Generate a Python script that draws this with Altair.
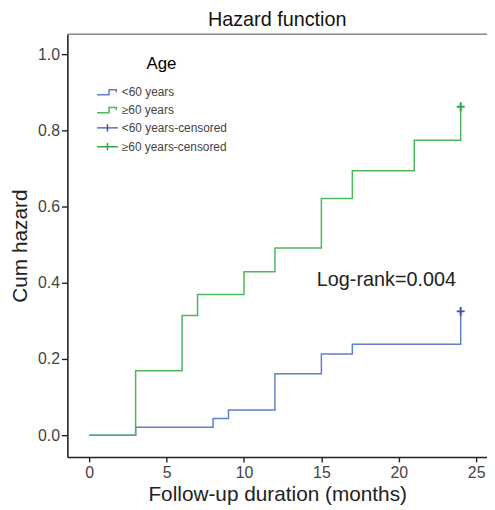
import altair as alt
import pandas as pd

# Data
times_lt60 = [0, 3, 8, 9, 12, 15, 17, 24]
haz_lt60 = [0.0, 0.021, 0.044, 0.066, 0.161, 0.213, 0.239, 0.325]
times_ge60 = [0, 3, 6, 7, 10, 12, 15, 17, 21, 24]
haz_ge60 = [0.0, 0.169, 0.314, 0.369, 0.429, 0.491, 0.621, 0.694, 0.774, 0.862]

labels = ["<60 years", "≥60 years", "<60 years-censored", "≥60 years-censored"]
colors = ["#5f7fd0", "#4cb85c", "#3a52b0", "#2fa847"]
x_ticks = [0, 5, 10, 15, 20, 25]
y_ticks = [0.0, 0.2, 0.4, 0.6, 0.8, 1.0]

lines = pd.DataFrame(
    {"t": times_lt60, "h": haz_lt60, "g": labels[0]}
)
lines = pd.concat(
    [lines, pd.DataFrame({"t": times_ge60, "h": haz_ge60, "g": labels[1]})],
    ignore_index=True,
)
cens = pd.DataFrame(
    {"t": [times_lt60[-1], times_ge60[-1]], "h": [haz_lt60[-1], haz_ge60[-1]],
     "g": [labels[2], labels[3]]}
)
note = pd.DataFrame({"t": [19.2], "h": [0.408], "txt": ["Log-rank=0.004"]})

W, H = 424, 427
xscale = alt.Scale(domain=[-1.41, 25.70], nice=False, zero=False)
yscale = alt.Scale(domain=[-0.057, 1.052], nice=False, zero=False)
cscale = alt.Scale(domain=labels, range=colors)

step = "M-1,0.25L0.15,0.25L0.15,-0.25L0.85,-0.25L0.85,0"
lcross = "M-1,0L1,0M0,-0.35L0,0.35"
sscale = alt.Scale(domain=labels, range=[step, step, lcross, lcross])
pcross = "M-0.4,0L0.4,0M0,-0.45L0,0.45"

xax = alt.Axis(values=x_ticks, title="Follow-up duration (months)", grid=False,
               labelFontSize=16, titleFontSize=21, tickSize=5, labelPadding=3,
               titlePadding=3, titleFontWeight="normal")
yax = alt.Axis(values=y_ticks, format=".1f", title="Cum hazard", grid=False,
               labelFontSize=16, titleFontSize=21, tickSize=6, labelPadding=2,
               titlePadding=7, titleFontWeight="normal")

legend = alt.Legend(
    title="Age", orient="none", legendX=29, legendY=22, titleFontSize=17,
    titleFontWeight="normal", titleAlign="center", titleAnchor="middle",
    titlePadding=8, labelFontSize=12, labelColor="#444", symbolSize=441,
    symbolStrokeWidth=1.5, rowPadding=-8, labelOffset=3,
)

base_line = alt.Chart(lines).mark_line(interpolate="step-after", strokeWidth=1.5).encode(
    x=alt.X("t:Q", scale=xscale, axis=xax),
    y=alt.Y("h:Q", scale=yscale, axis=yax),
    color=alt.Color("g:N", scale=cscale, legend=legend),
    order=alt.Order("t:Q"),
)

# legend-only layer (no rows drawn)
legend_layer = alt.Chart(cens).transform_filter("false").mark_point(
    filled=False, size=441, strokeWidth=1.5, opacity=1
).encode(
    x="t:Q",
    y="h:Q",
    color=alt.Color("g:N", scale=cscale, legend=legend),
    shape=alt.Shape("g:N", scale=sscale, legend=legend),
)

cens_layer = alt.Chart(cens).mark_point(
    filled=False, size=400, strokeWidth=2, opacity=1, shape=pcross
).encode(
    x="t:Q",
    y="h:Q",
    color=alt.Color("g:N", scale=cscale, legend=legend),
)

txt = alt.Chart(note).mark_text(fontSize=20, color="#222", font="Liberation Sans").encode(
    x="t:Q", y="h:Q", text="txt:N"
)

top = alt.Chart(pd.DataFrame({"a": [0]})).mark_rule(color="#888", strokeWidth=1.5).encode(
    x=alt.value(0), x2=alt.value(W), y=alt.value(0)
)

chart = (
    alt.layer(base_line, legend_layer, cens_layer, txt, top)
    .properties(
        width=W, height=H,
        title=alt.TitleParams("Hazard function", fontSize=20, fontWeight="normal",
                              offset=4, color="#111"),
        autosize=alt.AutoSizeParams(type="none"),
        padding={"left": 60, "top": 24, "right": 0, "bottom": 51},
    )
    .configure(font="Liberation Sans",
               style={"guide-title": {"fontWeight": 400}})
    .configure_view(stroke=None)
    .configure_axis(domainColor="#222", domainWidth=1.6, tickColor="#222",
                    tickWidth=1.4, labelColor="#444", titleColor="#222",
                    labelFont="Liberation Sans", titleFont="Liberation Sans")
    .configure_legend(labelFont="Liberation Sans", titleFont="Liberation Sans",
                      titleFontWeight=400, rowPadding=-8)
)

chart.save("out.html", embed_options={"renderer": "svg", "actions": False})
